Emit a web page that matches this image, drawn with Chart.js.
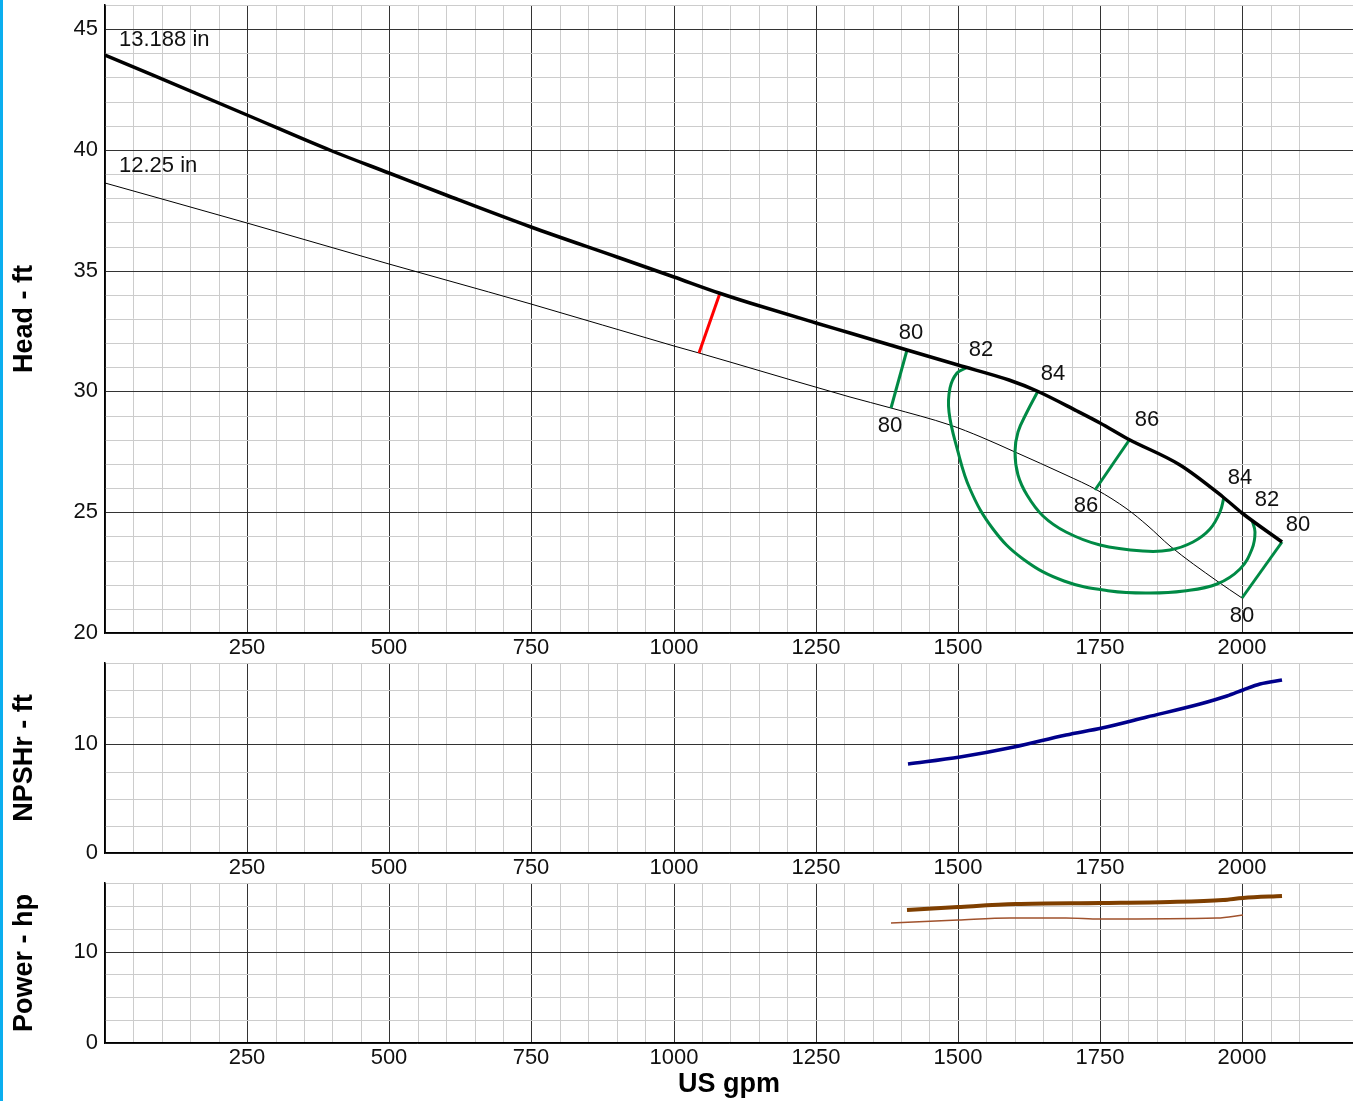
<!DOCTYPE html>
<html lang="en">
<head>
<meta charset="utf-8">
<title>Curva de bomba</title>
<script src="https://cdn.jsdelivr.net/npm/chart.js@4.4.1/dist/chart.umd.min.js"></script>
<style>
  html, body { margin: 0; padding: 0; background: #fff; overflow: hidden; width: 1353px; height: 1101px; }
  #franja { position: absolute; left: 0; top: 0; width: 3px; height: 1101px; background: #0aaeef; z-index: 5; }
  canvas { position: absolute; left: 0; }
</style>
</head>
<body>
<div id="franja"></div>
<canvas id="graficaAltura" width="1353" height="661" style="top:0"></canvas>
<canvas id="graficaNpsh" width="1353" height="220" style="top:661px"></canvas>
<canvas id="graficaPotencia" width="1353" height="220" style="top:881px"></canvas>
<script>
// Curva de altura, impulsor 13.188 in
const caudal13 = [0, 250, 400, 500, 600, 750, 900, 1000, 1080, 1135, 1250, 1310, 1410, 1500, 1590, 1640, 1710, 1750, 1800, 1890, 1967, 2000, 2070];
const altura13 = [43.92, 41.43, 39.96, 39.03, 38.12, 36.80, 35.58, 34.74, 34.09, 33.68, 32.85, 32.43, 31.72, 31.10, 30.47, 30.03, 29.19, 28.68, 28.05, 26.95, 25.65, 24.95, 23.78];

// Curva de altura, impulsor 12.25 in
const caudal12 = [0, 250, 500, 600, 750, 1000, 1044, 1100, 1310, 1383, 1486, 1540, 1600, 1690, 1744, 1797, 1835, 1873, 1955, 1999];
const altura12 = [38.65, 36.99, 35.28, 34.60, 33.61, 31.90, 31.60, 31.23, 29.79, 29.30, 28.61, 28.12, 27.50, 26.53, 25.90, 25.14, 24.42, 23.61, 22.15, 21.46];

// Curvas de eficiencia
const caudalEta80a = [1410, 1383];
const alturaEta80a = [31.72, 29.30];
const caudalEta80b = [2070, 1999];
const alturaEta80b = [23.78, 21.46];
const caudalEta82 = [1515, 1498, 1486, 1485, 1498, 1521, 1562, 1615, 1686, 1768, 1838, 1897, 1955, 1996, 2017, 2023, 2017];
const alturaEta82 = [30.99, 30.76, 30.14, 29.17, 27.64, 25.97, 24.30, 23.05, 22.15, 21.74, 21.64, 21.74, 22.01, 22.64, 23.47, 24.17, 24.66];
const caudalEta84 = [1641, 1621, 1606, 1600, 1606, 1621, 1650, 1691, 1750, 1826, 1873, 1914, 1943, 1961, 1968];
const alturaEta84 = [30.03, 29.17, 28.33, 27.50, 26.53, 25.70, 24.86, 24.17, 23.64, 23.40, 23.45, 23.75, 24.30, 25.00, 25.63];
const caudalEta86 = [1803, 1741];
const alturaEta86 = [28.05, 25.90];

// Línea roja (punto de diseño)
const caudalRojo = [1081, 1044];
const alturaRojo = [34.08, 31.60];

// Etiquetas sobre la gráfica de altura
const textoEtiquetas = ['13.188 in', '12.25 in', '80', '80', '82', '84', '86', '86', '84', '82', '80', '80'];
const gpmEtiquetas = [24, 25, 1417, 1380, 1540, 1668, 1832, 1725, 1996, 2043, 2099, 1999];
const alturaEtiquetas = [44.57, 39.33, 32.43, 28.57, 31.70, 30.74, 28.82, 25.25, 26.42, 25.51, 24.49, 20.70];
const alineaEtiquetas = ['left', 'left', 'center', 'center', 'center', 'center', 'center', 'center', 'center', 'center', 'center', 'center'];

// NPSHr
const caudalNpsh = [1412, 1504, 1598, 1691, 1753, 1832, 1926, 1973, 2002, 2031, 2070];
const npsh = [8.24, 8.83, 9.79, 10.85, 11.50, 12.56, 13.70, 14.47, 15.03, 15.56, 15.93];

// Potencia
const caudalPot13 = [1411, 1500, 1603, 1750, 1873, 1967, 2002, 2070];
const potencia13 = [14.54, 14.90, 15.24, 15.35, 15.46, 15.64, 15.86, 16.08];
const caudalPot12 = [1383, 1500, 1592, 1691, 1750, 1955, 2002];
const potencia12 = [13.15, 13.44, 13.66, 13.66, 13.59, 13.70, 13.96];

const fuente = '"Liberation Sans", Arial, sans-serif';
Chart.defaults.font.family = fuente;
Chart.defaults.font.size = 22;
Chart.defaults.color = '#111';

function pares(xs, ys) {
    return xs.map((x, i) => ({ x: x, y: ys[i] }));
}

// monotona = true para curvas que avanzan siempre en x
function linea(xs, ys, color, grosor, tension, monotona) {
    return {
        data: pares(xs, ys),
        showLine: true,
        borderColor: color,
        borderWidth: grosor,
        pointRadius: 0,
        tension: tension,
        cubicInterpolationMode: monotona ? 'monotone' : 'default',
        fill: false
    };
}

// Plugin sencillo para escribir las etiquetas de texto
const etiquetasPlugin = {
    id: 'etiquetas',
    afterDatasetsDraw(chart, args, opts) {
        if (!opts.textos) return;
        const { ctx, scales } = chart;
        ctx.save();
        ctx.font = '22px ' + fuente;
        ctx.fillStyle = '#111';
        ctx.textBaseline = 'middle';
        opts.textos.forEach((t, i) => {
            ctx.textAlign = opts.alinea[i];
            ctx.fillText(t, scales.x.getPixelForValue(opts.gpm[i]), scales.y.getPixelForValue(opts.valor[i]));
        });
        ctx.restore();
    }
};

// quitar el relleno extra que Chart.js reserva para las etiquetas de los extremos
function sinRelleno(s) {
    s.paddingTop = 0;
    s.paddingBottom = 0;
    s.paddingLeft = 0;
    s.paddingRight = 0;
}

function ejeX(conTitulo) {
    return {
        type: 'linear',
        min: 0,
        max: 2195,
        alignToPixels: true,
        afterBuildTicks: s => { s.ticks = s.ticks.filter(t => t.value % 50 === 0); },
        afterFit: s => { s.height = conTitulo ? 58 : 28; sinRelleno(s); },
        ticks: {
            stepSize: 50,
            autoSkip: false,
            maxRotation: 0,
            padding: 2,
            callback: v => (v % 250 === 0 && v !== 0) ? v : ''
        },
        grid: {
            color: c => (c.tick && c.tick.value % 250 === 0) ? '#333333' : '#cccccc',
            drawTicks: false
        },
        border: { color: '#000', width: 1.5 },
        title: {
            display: conTitulo,
            text: 'US gpm',
            color: '#000',
            font: { size: 27, weight: 'bold' },
            padding: 0
        }
    };
}

function ejeY(min, max, paso, mayor, titulo) {
    return {
        min: min,
        max: max,
        alignToPixels: true,
        afterFit: s => { s.width = 105; sinRelleno(s); },
        ticks: {
            stepSize: paso,
            autoSkip: false,
            padding: 7,
            callback: v => (v % mayor === 0) ? v : ''
        },
        grid: {
            color: c => (c.tick && c.tick.value % mayor === 0) ? '#333333' : '#cccccc',
            drawTicks: false
        },
        border: { color: '#000', width: 1.5 },
        title: {
            display: true,
            text: titulo,
            color: '#000',
            font: { size: 27, weight: 'bold' },
            padding: { top: 8, bottom: 0 }
        }
    };
}

function opciones(padTop, ejeYConf, conTitulo, etiquetas) {
    return {
        responsive: false,
        animation: false,
        layout: { padding: { top: padTop, left: 0, right: 0, bottom: 0 } },
        plugins: {
            legend: { display: false },
            tooltip: { enabled: false },
            etiquetas: etiquetas || {}
        },
        scales: {
            x: ejeX(conTitulo),
            y: ejeYConf
        }
    };
}

// Gráfica de altura
new Chart(document.getElementById('graficaAltura'), {
    type: 'scatter',
    data: {
        datasets: [
            linea(caudal13, altura13, '#000000', 3.5, 0.4, true),
            linea(caudalRojo, alturaRojo, '#ff0000', 3, 0, false),
            linea(caudalEta80a, alturaEta80a, '#008a45', 3, 0, false),
            linea(caudalEta80b, alturaEta80b, '#008a45', 3, 0, false),
            linea(caudalEta82, alturaEta82, '#008a45', 3, 0.4, false),
            linea(caudalEta84, alturaEta84, '#008a45', 3, 0.4, false),
            linea(caudalEta86, alturaEta86, '#008a45', 3, 0, false),
            linea(caudal12, altura12, '#000000', 1, 0.4, true)
        ]
    },
    options: opciones(5, ejeY(20, 46, 1, 5, 'Head - ft'), false, {
        textos: textoEtiquetas,
        gpm: gpmEtiquetas,
        valor: alturaEtiquetas,
        alinea: alineaEtiquetas
    }),
    plugins: [etiquetasPlugin]
});

// Gráfica de NPSHr
new Chart(document.getElementById('graficaNpsh'), {
    type: 'scatter',
    data: {
        datasets: [linea(caudalNpsh, npsh, '#00008b', 3.5, 0.4, true)]
    },
    options: opciones(2, ejeY(0, 17.5, 2.5, 10, 'NPSHr - ft'), false)
});

// Gráfica de potencia
new Chart(document.getElementById('graficaPotencia'), {
    type: 'scatter',
    data: {
        datasets: [
            linea(caudalPot13, potencia13, '#7f3f00', 4, 0.4, true),
            linea(caudalPot12, potencia12, '#a0522d', 1.5, 0.4, true)
        ]
    },
    options: opciones(2, ejeY(0, 17.5, 2.5, 10, 'Power - hp'), true)
});
</script>
</body>
</html>
